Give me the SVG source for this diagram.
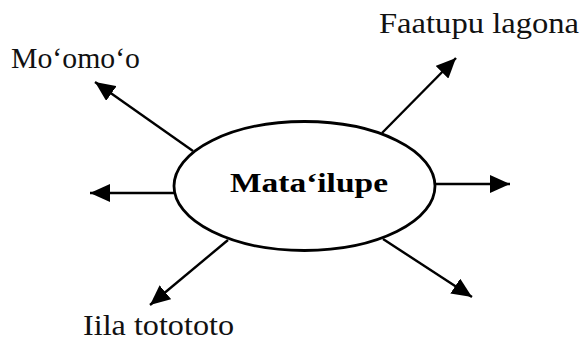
<svg xmlns="http://www.w3.org/2000/svg" width="587" height="340" viewBox="0 0 587 340">
<style>
.lbl{font-family:"Liberation Serif","Times New Roman",serif;font-size:29px;fill:#111}
.ctr{font-family:"Liberation Serif","Times New Roman",serif;font-size:27px;font-weight:bold;fill:#000}
.conn line{stroke:#000;stroke-width:2.4;fill:none}
</style>
<defs>
<marker id="ah" markerUnits="userSpaceOnUse" markerWidth="22" markerHeight="18" refX="20" refY="9" orient="auto">
<path d="M0,0 L20,9 L0,18 z" fill="#000"/>
</marker>
</defs>
<rect width="587" height="340" fill="#fff"/>
<g id="connectors" class="conn">
<line x1="193" y1="151" x2="95" y2="82" marker-end="url(#ah)"/>
<line x1="382" y1="133" x2="456" y2="58" marker-end="url(#ah)"/>
<line x1="174" y1="193" x2="90" y2="193" marker-end="url(#ah)"/>
<line x1="436" y1="184" x2="510" y2="184" marker-end="url(#ah)"/>
<line x1="228" y1="240" x2="150" y2="305" marker-end="url(#ah)"/>
<line x1="383" y1="239" x2="472" y2="297" marker-end="url(#ah)"/>
</g>
<g id="center">
<ellipse cx="304.5" cy="186" rx="130.5" ry="64.5" fill="#fff" stroke="#000" stroke-width="2.8"/>
<text class="ctr" x="230" y="192" textLength="158" lengthAdjust="spacingAndGlyphs">Mata‘ilupe</text>
</g>
<g id="momoo">
<text class="lbl" x="11" y="68" textLength="129" lengthAdjust="spacingAndGlyphs">Mo‘omo‘o</text>
</g>
<g id="faatupu">
<text class="lbl" x="379" y="33" textLength="200" lengthAdjust="spacingAndGlyphs">Faatupu lagona</text>
</g>
<g id="iila">
<text class="lbl" x="83" y="335" textLength="151" lengthAdjust="spacingAndGlyphs">Iila totototo</text>
</g>
</svg>
